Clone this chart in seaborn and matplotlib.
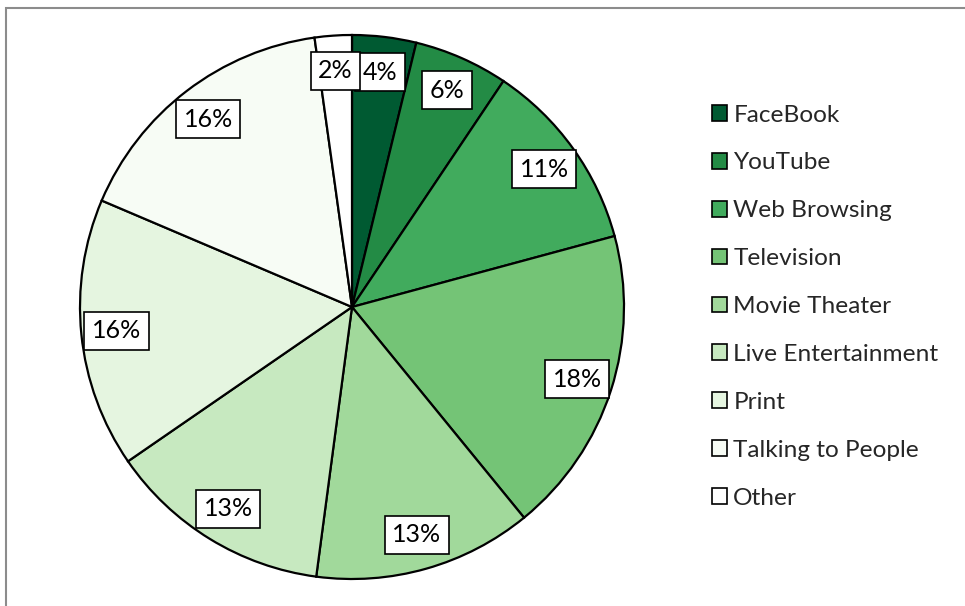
import seaborn as sns
import matplotlib.pyplot as plt
from matplotlib.patches import Patch, Rectangle

categories = ["FaceBook", "YouTube", "Web Browsing", "Television", "Movie Theater",
              "Live Entertainment", "Print", "Talking to People", "Other"]
shares = [3.8, 5.6, 11.4, 18.3, 13.0, 13.3, 16.0, 16.4, 2.2]
colors = ["#005a32", "#238b45", "#41ab5d", "#74c476", "#a1d99b",
          "#c7e9c0", "#e5f5e0", "#f7fcf5", "#ffffff"]

sns.set_theme(style="white")
plt.rcParams['font.family'] = ['Lato', 'DejaVu Sans']

W, H = 965, 606
fig = plt.figure(figsize=(W / 100, H / 100), dpi=100)

# chart frame (only top/left visible, rest is cropped)
fig.add_artist(Rectangle((5.5 / W, -0.1), 1.2, 1 - 7.5 / H + 0.1, transform=fig.transFigure,
                         fill=False, edgecolor="#8c8c8c", linewidth=1.5))

cx, cy, r = 352, 307, 272
ax = fig.add_axes([(cx - r) / W, (H - cy - r) / H, 2 * r / W, 2 * r / H])

wedges, texts, autotexts = ax.pie(
    shares, colors=colors, startangle=90, counterclock=False,
    autopct=lambda p: "%d%%" % round(p), pctdistance=0.87,
    wedgeprops=dict(edgecolor="black", linewidth=1.6),
    textprops=dict(fontsize=18, color="black"))
for t in autotexts:
    t.set_bbox(dict(boxstyle="square,pad=0.3", facecolor="white", edgecolor="black", linewidth=1.2))
ax.set_xlim(-1, 1)
ax.set_ylim(-1, 1)
ax.set_aspect("equal")

handles = [Patch(facecolor=c, edgecolor="black", linewidth=1.2) for c in colors]
fig.legend(handles, categories, loc="upper left", bbox_to_anchor=(712 / W, 1 - 104.5 / H),
           frameon=False, fontsize=17.6, handlelength=0.62, handleheight=0.62,
           handletextpad=0.25, labelspacing=1.1, borderaxespad=0, borderpad=0)

fig.savefig("out.png", dpi=100)
